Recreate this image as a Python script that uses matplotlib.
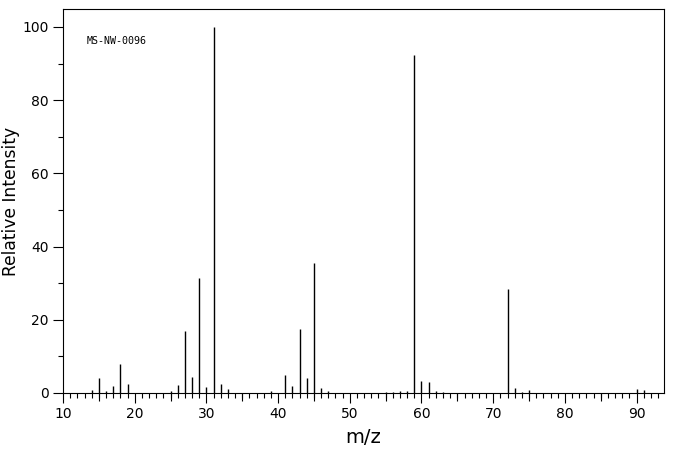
import matplotlib
matplotlib.use("Agg")
import matplotlib.pyplot as plt
from matplotlib.ticker import MultipleLocator

MZ = [14, 15, 16, 17, 18, 19, 25, 26, 27, 28, 29, 30, 31, 32, 33, 39,
      41, 42, 43, 44, 45, 46, 47, 55, 56, 57, 58, 59, 60, 61, 62, 63,
      72, 73, 74, 75, 90, 91]
INTENSITY = [0.8, 4.0, 0.5, 1.8, 7.8, 2.4, 0.5, 2.3, 16.9, 4.5, 31.4, 1.5, 100, 2.5, 1.2, 0.5,
             4.8, 1.9, 17.5, 4.1, 35.5, 1.4, 0.5, 0.4, 0.3, 0.6, 0.5, 92.3, 3.4, 2.9, 0.6, 0.4,
             28.4, 1.4, 0.4, 0.9, 1.1, 0.8]
X_MAJOR = list(range(10, 91, 10))
X_MID = list(range(15, 91, 10))
Y_MAJOR = list(range(0, 101, 20))

fig = plt.figure(figsize=(6.76, 4.55), dpi=100)
ax = fig.add_axes([0.0932, 0.1363, 0.8888, 0.8439])

ax.vlines(MZ, 0, INTENSITY, color="black", lw=1.0)
ax.set_xlim(10, 93.8)
ax.set_ylim(0, 104.9)

ax.set_xticks(X_MAJOR)
ax.set_yticks(Y_MAJOR)
ax.xaxis.set_minor_locator(MultipleLocator(1))
ax.yaxis.set_minor_locator(MultipleLocator(10))
ax.tick_params(axis="both", which="major", direction="out", length=7.2, width=0.8,
               labelsize=10, pad=3)
ax.tick_params(axis="both", which="minor", direction="out", length=3.6, width=0.8)

# medium ticks at the fives
sec = ax.secondary_xaxis("bottom")
sec.set_xticks(X_MID)
sec.tick_params(direction="out", length=5.5, width=0.8, labelbottom=False)
sec.spines["bottom"].set_visible(False)

for s in ax.spines.values():
    s.set_linewidth(0.8)

ax.set_xlabel("m/z", fontsize=14, labelpad=5)
ax.set_ylabel("Relative Intensity", fontsize=12.3)
ax.yaxis.set_label_coords(-0.072, 0.5)
ax.text(0.040, 0.917, "MS-NW-0096", transform=ax.transAxes, fontsize=7.2,
        family="DejaVu Sans Mono", ha="left", va="center")

fig.savefig("out.png", dpi=100)
